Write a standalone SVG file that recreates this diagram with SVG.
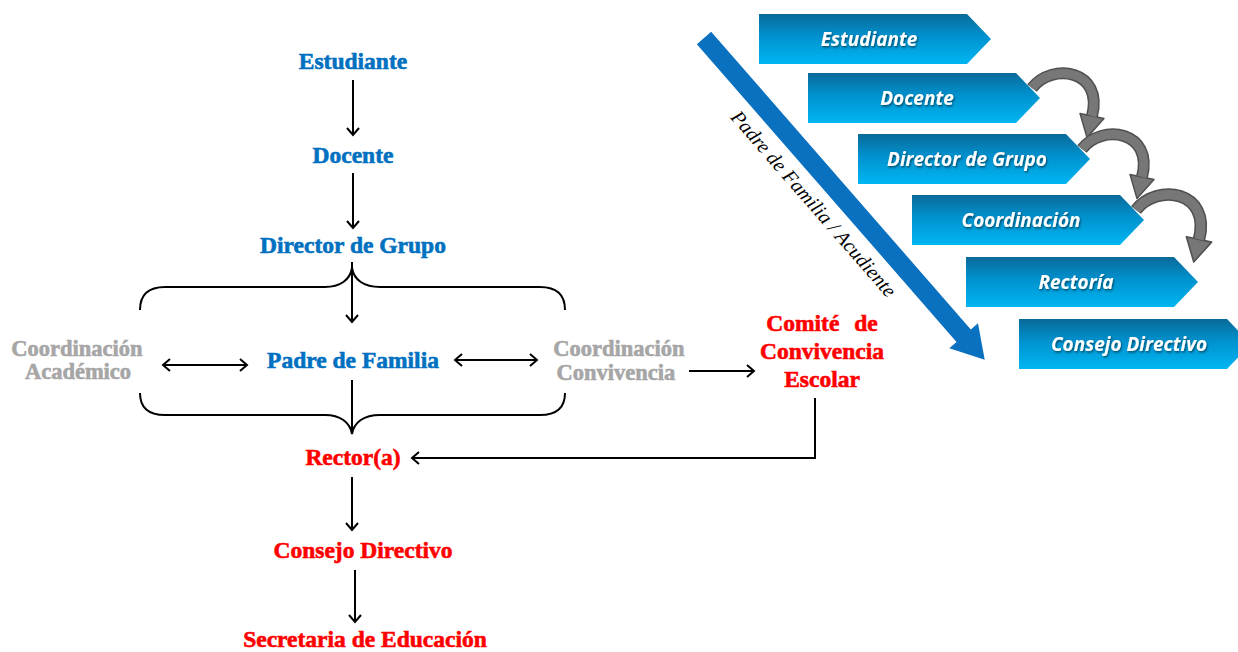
<svg xmlns="http://www.w3.org/2000/svg" width="1238" height="652" viewBox="0 0 1238 652">
<defs>
<style>
.b{font-family:"Liberation Serif",serif;font-weight:bold;font-size:23.5px;fill:#0070c0;stroke:#0070c0;stroke-width:0.6px;text-anchor:middle}
.r{font-family:"Liberation Serif",serif;font-weight:bold;font-size:23.5px;fill:#ff0000;stroke:#ff0000;stroke-width:0.6px;text-anchor:middle}
.g{font-family:"Liberation Serif",serif;font-weight:bold;font-size:22.5px;fill:#a6a6a6;stroke:#a6a6a6;stroke-width:0.6px;text-anchor:middle}
.c{font-family:"Open Sans",sans-serif;font-weight:bold;font-style:italic;font-size:19px;fill:#ffffff;text-anchor:middle;filter:url(#ts)}
.d{font-family:"Liberation Serif",serif;font-style:italic;font-size:20px;fill:#000}
.ln{fill:none;stroke:#000;stroke-width:2}
.chev{fill:url(#chev)}
</style>
<linearGradient id="chev" x1="0" y1="0" x2="0" y2="1">
<stop offset="0" stop-color="#0a6a99"/>
<stop offset="0.45" stop-color="#0092cf"/>
<stop offset="1" stop-color="#00b6f2"/>
</linearGradient>
<marker id="ah" markerUnits="userSpaceOnUse" markerWidth="12" markerHeight="16" viewBox="-10 -8 12 16" refX="0" refY="0" orient="auto-start-reverse">
<path d="M-7,-6 L0,0 L-7,6" fill="none" stroke="#000" stroke-width="2"/>
</marker>
<filter id="ts" x="-10%" y="-30%" width="120%" height="160%">
<feDropShadow dx="1" dy="1.5" stdDeviation="0.8" flood-color="#000" flood-opacity="0.55"/>
</filter>
<path id="chevshape" d="M0,0 H208 L232,25 L208,50 H0 Z"/>
<g id="curv">
<path d="M0,0 C20,-26 72,-18 60,28" fill="none" stroke="#505050" stroke-width="12"/>
<polygon points="72,30.6 48,25.4 55,49.5" fill="#777" stroke="#505050" stroke-width="1.5" stroke-linejoin="round"/>
<path d="M0,0 C20,-26 72,-18 60,28" fill="none" stroke="#777" stroke-width="9"/>
</g>
</defs>

<g id="connectors">
<line class="ln" x1="353" y1="80" x2="353" y2="135" marker-end="url(#ah)"/>
<line class="ln" x1="353" y1="173" x2="353" y2="228" marker-end="url(#ah)"/>
<line class="ln" x1="352" y1="262" x2="352" y2="322" marker-end="url(#ah)"/>
<path class="ln" d="M140,310 C140,295 148,287 165,287 L325,287 C340,287 350,280 352,268 C354,280 364,287 380,287 L540,287 C557,287 565,295 565,310"/>
<path class="ln" d="M140,393 C140,408 148,415 165,415 L325,415 C340,415 350,422 352,434 C354,422 364,415 380,415 L540,415 C557,415 565,408 565,393"/>
<line class="ln" x1="352" y1="380" x2="352" y2="434"/>
<line class="ln" x1="163" y1="365" x2="247" y2="365" marker-start="url(#ah)" marker-end="url(#ah)"/>
<line class="ln" x1="455" y1="360" x2="537" y2="360" marker-start="url(#ah)" marker-end="url(#ah)"/>
<line class="ln" x1="689" y1="371" x2="754" y2="371" marker-end="url(#ah)"/>
<polyline class="ln" points="815,398 815,458 412,458" marker-end="url(#ah)"/>
<line class="ln" x1="352" y1="477" x2="352" y2="530" marker-end="url(#ah)"/>
<line class="ln" x1="355" y1="570" x2="355" y2="622" marker-end="url(#ah)"/>
<use href="#curv" transform="translate(1032,88)"/>
<use href="#curv" transform="translate(1082,149)"/>
<use href="#curv" transform="translate(1136,210) scale(1.05)"/>
</g>

<g id="n-estudiante"><text class="b" x="353" y="69">Estudiante</text></g>
<g id="n-docente"><text class="b" x="353" y="163">Docente</text></g>
<g id="n-director"><text class="b" x="353" y="253">Director de Grupo</text></g>
<g id="n-padre"><text class="b" x="353" y="368">Padre de Familia</text></g>
<g id="n-coord-academico"><text class="g" x="77" y="356">Coordinación</text><text class="g" x="78" y="379">Académico</text></g>
<g id="n-coord-convivencia"><text class="g" x="619" y="356">Coordinación</text><text class="g" x="616" y="380">Convivencia</text></g>
<g id="n-comite"><text class="r" x="822" y="331" word-spacing="9">Comité de</text><text class="r" x="822" y="359">Convivencia</text><text class="r" x="822" y="387">Escolar</text></g>
<g id="n-rector"><text class="r" x="353" y="465">Rector(a)</text></g>
<g id="n-consejo"><text class="r" x="363" y="558">Consejo Directivo</text></g>
<g id="n-secretaria"><text class="r" x="365" y="647">Secretaria de Educación</text></g>

<g id="diag-arrow" transform="translate(704,38) rotate(48.9)">
<polygon points="0,-9.5 395,-9.5 395,-19 427,0 395,19 395,9.5 0,9.5" fill="#0a70c0"/>
<text class="d" x="197" y="33" text-anchor="middle" textLength="240" lengthAdjust="spacingAndGlyphs">Padre de Familia / Acudiente</text>
</g>

<g id="c-estudiante" transform="translate(759,14)"><use href="#chevshape" class="chev"/><text class="c" x="110" y="32">Estudiante</text></g>
<g id="c-docente" transform="translate(808,73)"><use href="#chevshape" class="chev"/><text class="c" x="109" y="32">Docente</text></g>
<g id="c-director" transform="translate(858,134)"><use href="#chevshape" class="chev"/><text class="c" x="109" y="32">Director de Grupo</text></g>
<g id="c-coordinacion" transform="translate(912,195)"><use href="#chevshape" class="chev"/><text class="c" x="109" y="32">Coordinación</text></g>
<g id="c-rectoria" transform="translate(966,257)"><use href="#chevshape" class="chev"/><text class="c" x="110" y="32">Rectoría</text></g>
<g id="c-consejo" transform="translate(1019,319)"><use href="#chevshape" class="chev"/><text class="c" x="110" y="32">Consejo Directivo</text></g>
</svg>
